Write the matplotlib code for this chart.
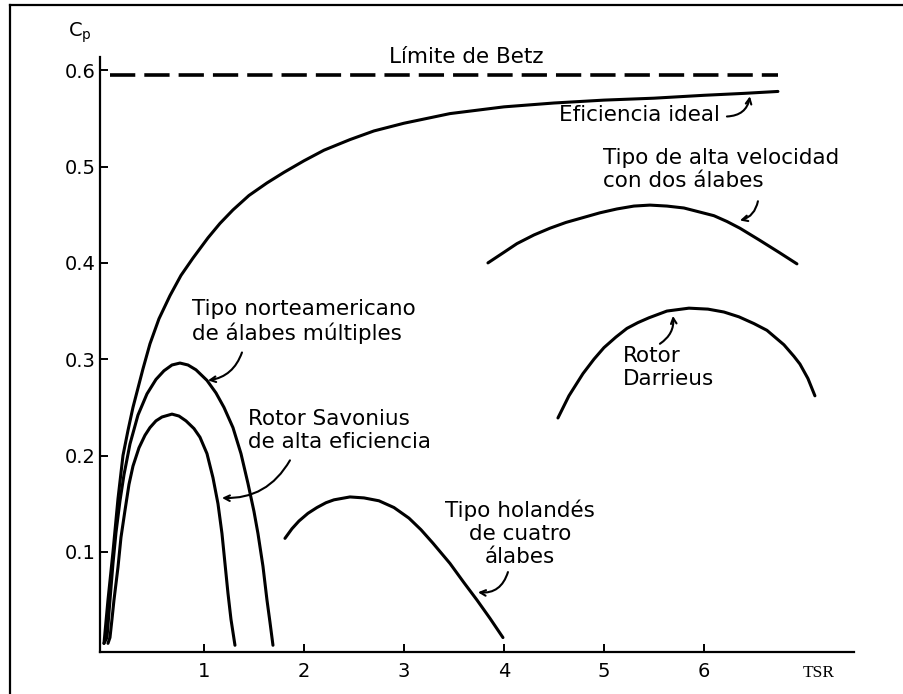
import matplotlib
matplotlib.use('Agg')
import matplotlib.pyplot as plt
from matplotlib.lines import Line2D

plt.rcParams['font.family'] = ['DejaVu Sans']

# Curves (TSR, Cp)
betz_x = [0.06, 6.74]
betz_cp = [0.595, 0.595]

ideal_x = [0.0, 0.04, 0.09, 0.14, 0.19, 0.24, 0.29, 0.33, 0.39, 0.46, 0.55, 0.66, 0.77, 0.89,
           1.04, 1.16, 1.29, 1.45, 1.63, 1.8, 2.0, 2.2, 2.46, 2.7, 3.0, 3.46, 4.0, 4.5, 5.0,
           5.5, 6.0, 6.4, 6.74]
ideal_cp = [0.005, 0.05, 0.10, 0.155, 0.200, 0.226, 0.250, 0.266, 0.290, 0.316, 0.342, 0.366,
            0.387, 0.405, 0.426, 0.441, 0.455, 0.470, 0.483, 0.494, 0.506, 0.517, 0.528, 0.537,
            0.545, 0.555, 0.562, 0.566, 0.569, 0.571, 0.574, 0.576, 0.578]

multi_x = [0.0, 0.03, 0.06, 0.09, 0.12, 0.16, 0.2, 0.26, 0.34, 0.43, 0.52, 0.6, 0.68, 0.76,
           0.84, 0.92, 1.03, 1.12, 1.2, 1.29, 1.37, 1.44, 1.5, 1.54, 1.59, 1.63, 1.66, 1.69]
multi_cp = [0.005, 0.011, 0.05, 0.088, 0.12, 0.153, 0.18, 0.212, 0.242, 0.264, 0.279, 0.288,
            0.294, 0.296, 0.294, 0.289, 0.278, 0.265, 0.25, 0.229, 0.202, 0.171, 0.142, 0.119,
            0.085, 0.05, 0.027, 0.003]

savonius_x = [0.04, 0.06, 0.08, 0.10, 0.14, 0.17, 0.21, 0.25, 0.29, 0.35, 0.41, 0.46, 0.52,
              0.58, 0.68, 0.75, 0.82, 0.9, 0.96, 1.03, 1.09, 1.14, 1.18, 1.21, 1.24, 1.27, 1.31]
savonius_cp = [0.005, 0.011, 0.03, 0.05, 0.084, 0.115, 0.143, 0.170, 0.189, 0.208, 0.221,
               0.229, 0.236, 0.240, 0.243, 0.241, 0.236, 0.228, 0.219, 0.202, 0.177, 0.15,
               0.119, 0.088, 0.057, 0.03, 0.003]

dutch_x = [1.81, 1.88, 1.95, 2.04, 2.13, 2.22, 2.3, 2.46, 2.6, 2.75, 2.9, 3.05, 3.17, 3.29,
           3.46, 3.6, 3.73, 3.86, 3.99]
dutch_cp = [0.114, 0.124, 0.132, 0.140, 0.146, 0.151, 0.154, 0.157, 0.156, 0.153, 0.146, 0.135,
            0.123, 0.109, 0.088, 0.068, 0.05, 0.031, 0.011]

twoblade_x = [3.84, 4.0, 4.13, 4.3, 4.46, 4.62, 4.79, 4.96, 5.13, 5.3, 5.46, 5.63, 5.8, 5.95,
              6.1, 6.23, 6.36, 6.55, 6.75, 6.93]
twoblade_cp = [0.400, 0.411, 0.420, 0.429, 0.436, 0.442, 0.447, 0.452, 0.456, 0.459, 0.460,
               0.459, 0.457, 0.453, 0.449, 0.443, 0.436, 0.424, 0.411, 0.399]

darrieus_x = [4.54, 4.65, 4.79, 4.9, 5.0, 5.12, 5.23, 5.34, 5.45, 5.63, 5.85, 6.04, 6.2, 6.35,
              6.5, 6.63, 6.8, 6.9, 6.96, 7.04, 7.11]
darrieus_cp = [0.239, 0.262, 0.285, 0.300, 0.312, 0.323, 0.332, 0.338, 0.343, 0.350, 0.353,
               0.352, 0.349, 0.344, 0.337, 0.330, 0.315, 0.303, 0.295, 0.280, 0.262]

xticks = [1, 2, 3, 4, 5, 6]
yticks = [0.1, 0.2, 0.3, 0.4, 0.5, 0.6]

fig = plt.figure(figsize=(9.04, 6.94), dpi=100)
ax = fig.add_axes([0.1106, 0.0605, 0.834, 0.857])

lw = 2.2
ax.plot(betz_x, betz_cp, color='black', lw=2.6, dashes=(7, 2.5))
for xs, ys in [(ideal_x, ideal_cp), (multi_x, multi_cp), (savonius_x, savonius_cp),
               (dutch_x, dutch_cp), (twoblade_x, twoblade_cp), (darrieus_x, darrieus_cp)]:
    ax.plot(xs, ys, color='black', lw=lw, solid_joinstyle='round', solid_capstyle='round')

ax.set_xlim(-0.04, 7.5)
ax.set_ylim(-0.004, 0.6135)
ax.set_xticks(xticks)
ax.set_xticklabels([str(t) for t in xticks])
ax.set_yticks(yticks)
ax.set_yticklabels([f'{t:.1f}' for t in yticks])
ax.tick_params(direction='in', length=6, width=1.4, labelsize=14, colors='black')
ax.tick_params(axis='x', pad=7)
ax.tick_params(axis='y', pad=3)
for s in ['top', 'right']:
    ax.spines[s].set_visible(False)
for s in ['left', 'bottom']:
    ax.spines[s].set_linewidth(1.6)

fs = 15.5
ls = 1.2
ax.text(3.62, 0.6135, 'Límite de Betz', fontsize=fs, ha='center', va='center')
ax.text(6.16, 0.554, 'Eficiencia ideal', fontsize=fs, ha='right', va='center')
ax.text(4.99, 0.497, 'Tipo de alta velocidad\ncon dos álabes', fontsize=fs, ha='left', va='center',
        linespacing=ls)
ax.text(5.19, 0.291, 'Rotor\nDarrieus', fontsize=fs, ha='left', va='center', linespacing=ls)
ax.text(0.88, 0.339, 'Tipo norteamericano\nde álabes múltiples', fontsize=fs, ha='left', va='center',
        linespacing=ls)
ax.text(1.44, 0.226, 'Rotor Savonius\nde alta eficiencia', fontsize=fs, ha='left', va='center',
        linespacing=ls)
ax.text(4.16, 0.119, 'Tipo holandés\nde cuatro\nálabes', fontsize=fs, ha='center', va='center',
        linespacing=ls, multialignment='center')

# curved pointer arrows
arrows = [((6.23, 0.552), (6.46, 0.573), 0.4),
          ((6.54, 0.464), (6.36, 0.444), -0.3),
          ((5.56, 0.316), (5.69, 0.345), 0.3),
          ((1.38, 0.307), (1.04, 0.278), -0.3),
          ((1.86, 0.195), (1.18, 0.156), -0.3),
          ((4.04, 0.079), (3.74, 0.058), -0.4)]
for tail, tip, rad in arrows:
    ax.annotate('', xy=tip, xytext=tail,
                arrowprops=dict(arrowstyle='->', color='black', lw=1.5,
                                connectionstyle=f'arc3,rad={rad}', shrinkA=0, shrinkB=0,
                                mutation_scale=10))

ax.text(-0.36, 0.639, r'C$_{\mathregular{p}}$', fontsize=14, ha='left', va='center', clip_on=False)
ax.text(7.15, -0.026, 'TSR', fontsize=12.5, family=['Liberation Serif', 'DejaVu Serif'],
        ha='center', va='center', clip_on=False)

# outer frame (top and left edges)
fig.add_artist(Line2D([10 / 904, 1.0], [1 - 5 / 694, 1 - 5 / 694], color='black', lw=1.6,
                      transform=fig.transFigure))
fig.add_artist(Line2D([10 / 904, 10 / 904], [0.0, 1 - 5 / 694], color='black', lw=1.6,
                      transform=fig.transFigure))

fig.savefig('out.png', dpi=100)
